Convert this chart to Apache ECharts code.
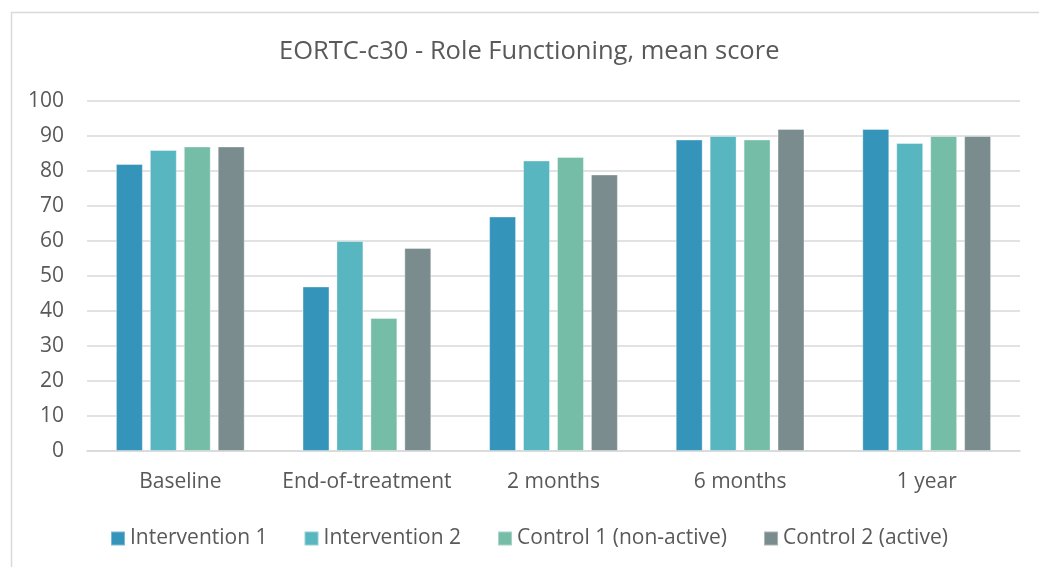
<!DOCTYPE html>
<html>
<head>
<meta charset="utf-8">
<script src="https://cdn.jsdelivr.net/npm/echarts@6/dist/echarts.min.js"></script>
<style>
html,body{margin:0;padding:0;background:#fff;}
#chart{width:1039px;height:567px;}
</style>
</head>
<body>
<div id="chart"></div>
<script>
const categories = ['Baseline', 'End-of-treatment', '2 months', '6 months', '1 year'];
const seriesNames = ['Intervention 1', 'Intervention 2', 'Control 1 (non-active)', 'Control 2 (active)'];
const intervention1 = [82, 47, 67, 89, 92];
const intervention2 = [86, 60, 83, 90, 88];
const control1 = [87, 38, 84, 89, 90];
const control2 = [87, 58, 79, 92, 90];
const colors = ['#3494BA', '#58B6C0', '#75BDA7', '#7A8C8E'];
const titleText = 'EORTC-c30 - Role Functioning, mean score';

const dataSets = [intervention1, intervention2, control1, control2];
const font = 'Open Sans';
const chart = echarts.init(document.getElementById('chart'));
chart.setOption({
  animation: false,
  color: colors,
  graphic: [{
    type: 'rect', z: -1,
    shape: {x: 11.5, y: 12.5, width: 1100, height: 700},
    style: {fill: '#fff', stroke: '#d9d9d9', lineWidth: 1.5}
  }],
  title: {
    text: titleText, left: 274, top: 34,
    textStyle: {fontFamily: font, fontSize: 25.5, fontWeight: 'normal', color: '#595959'}
  },
  legend: {
    bottom: 13, left: 105, itemWidth: 14, itemHeight: 14, itemGap: 36,
    icon: 'rect',
    textStyle: {fontFamily: font, fontSize: 21, color: '#595959'},
    data: seriesNames
  },
  grid: {left: 87, right: 19, top: 101, bottom: 116},
  xAxis: {
    type: 'category', data: categories,
    axisLine: {lineStyle: {color: '#d9d9d9', width: 1.5}},
    axisTick: {show: false},
    axisLabel: {fontFamily: font, fontSize: 21, color: '#595959', margin: 21, interval: 0}
  },
  yAxis: {
    type: 'value', min: 0, max: 100, interval: 10,
    axisLine: {show: false}, axisTick: {show: false},
    splitLine: {lineStyle: {color: '#d9d9d9', width: 1.5}},
    axisLabel: {fontFamily: font, fontSize: 21, color: '#595959', margin: 23}
  },
  series: dataSets.map((d, i) => ({
    name: seriesNames[i], type: 'bar', data: d,
    barGap: '26%', barCategoryGap: '31%',
    itemStyle: {borderColor: 'rgba(255,255,255,0.35)', borderWidth: 1}
  }))
});
</script>
</body>
</html>
